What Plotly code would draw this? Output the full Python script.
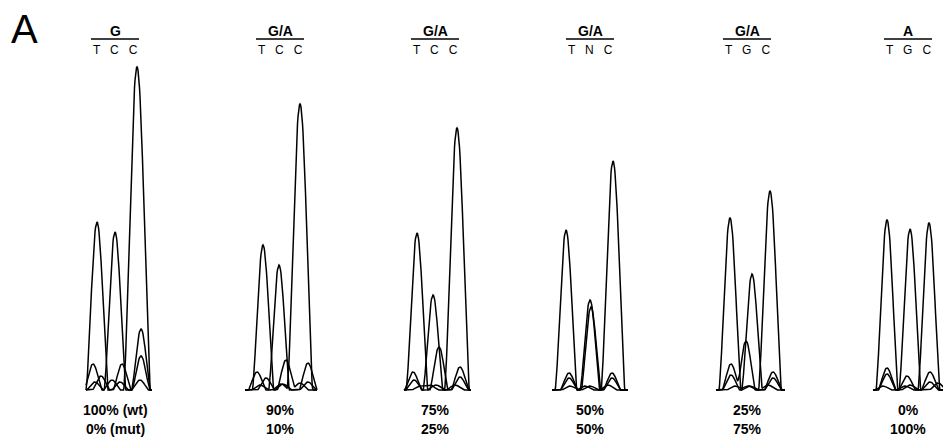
import numpy as np
import plotly.graph_objects as go

# ---- data ----
headers = ["G", "G/A", "G/A", "G/A", "G/A", "A"]
seq_labels = ["T   C   C", "T   C   C", "T   C   C", "T   N   C", "T   G   C", "T   G   C"]
wt_labels = ["100% (wt)", "90%", "75%", "50%", "25%", "0%"]
mut_labels = ["0% (mut)", "10%", "25%", "50%", "75%", "100%"]

scan_start = [86, 245, 404, 552, 716, 873]
scan_end = [152, 317, 471, 628, 785, 946]

# peak positions (scan units) and heights (signal) per channel, per panel
T_pos = [[97, 120, 141], [263, 283, 308], [417, 436, 460], [566, 590, 612], [730, 750, 773], [887, 907, 930]]
T_h = [[168, 8, 34], [145, 6, 27], [157, 5, 23], [160, 4, 17], [172, 4, 18], [170, 14, 18]]
G_pos = [[93, 115, 141], [257, 279, 308], [413, 433, 460], [569, 590, 612], [731, 746, 773], [887, 910, 938]]
G_h = [[26, 158, 61], [18, 125, 8], [18, 95, 13], [17, 90, 12], [26, 49, 12], [22, 5, 7]]
A_pos = [[101, 122, 140], [266, 286, 300], [414, 439, 455], [569, 591, 608], [731, 752, 768], [887, 910, 930]]
A_h = [[14, 26, 10], [12, 30, 7], [10, 43, 5], [12, 83, 5], [15, 116, 5], [16, 161, 8]]
C_pos = [[95, 112, 137], [260, 281, 300], [420, 430, 457], [570, 585, 613], [735, 748, 770], [883, 905, 929]]
C_h = [[8, 10, 323], [5, 6, 286], [4, 5, 262], [4, 4, 229], [4, 4, 199], [4, 4, 167]]

header_x = [115, 280, 435, 590, 747, 908]

channels = [(T_pos, T_h), (G_pos, G_h), (A_pos, A_h), (C_pos, C_h)]


def peak_trace(x, positions, heights):
    y = np.zeros_like(x)
    for p, h in zip(positions, heights):
        w = 8.5 + 0.015 * h
        d = np.clip(np.abs(x - p) / w, 0, 1)
        y += h * (0.5 * (1 + np.cos(np.pi * d))) ** 0.75
    return y


fig = go.Figure()
for i in range(len(headers)):
    x = np.arange(scan_start[i], scan_end[i] + 0.01, 0.5)
    for pos, hts in channels:
        fig.add_trace(go.Scatter(
            x=x, y=peak_trace(x, pos[i], hts[i]), mode="lines",
            line=dict(color="black", width=1.5), hoverinfo="skip", showlegend=False))

FONT = "Liberation Sans, Arial, sans-serif"


def py(pixel_y):
    return 390 - pixel_y


annotations = [dict(x=24, y=py(29), text="A", showarrow=False, xref="x", yref="y",
                    font=dict(family=FONT, size=40, color="black"))]
shapes = []
for i in range(len(headers)):
    cx = header_x[i]
    annotations.append(dict(x=cx, y=py(31), text="<b>%s</b>" % headers[i], showarrow=False,
                            font=dict(family=FONT, size=14, color="black")))
    annotations.append(dict(x=cx, y=py(50), text=seq_labels[i], showarrow=False,
                            font=dict(family=FONT, size=12, color="black")))
    annotations.append(dict(x=cx, y=py(410), text="<b>%s</b>" % wt_labels[i], showarrow=False,
                            font=dict(family=FONT, size=14, color="black")))
    annotations.append(dict(x=cx, y=py(429), text="<b>%s</b>" % mut_labels[i], showarrow=False,
                            font=dict(family=FONT, size=14, color="black")))
    shapes.append(dict(type="line", x0=cx - 24, x1=cx + 24, y0=py(39), y1=py(39),
                       line=dict(color="black", width=1.5)))

fig.update_layout(
    width=943, height=444,
    margin=dict(l=0, r=0, t=0, b=0),
    paper_bgcolor="white", plot_bgcolor="white",
    xaxis=dict(range=[0, 943], visible=False, fixedrange=True),
    yaxis=dict(range=[-54, 390], visible=False, fixedrange=True),
    annotations=annotations, shapes=shapes,
)
fig.write_html("out.html")
